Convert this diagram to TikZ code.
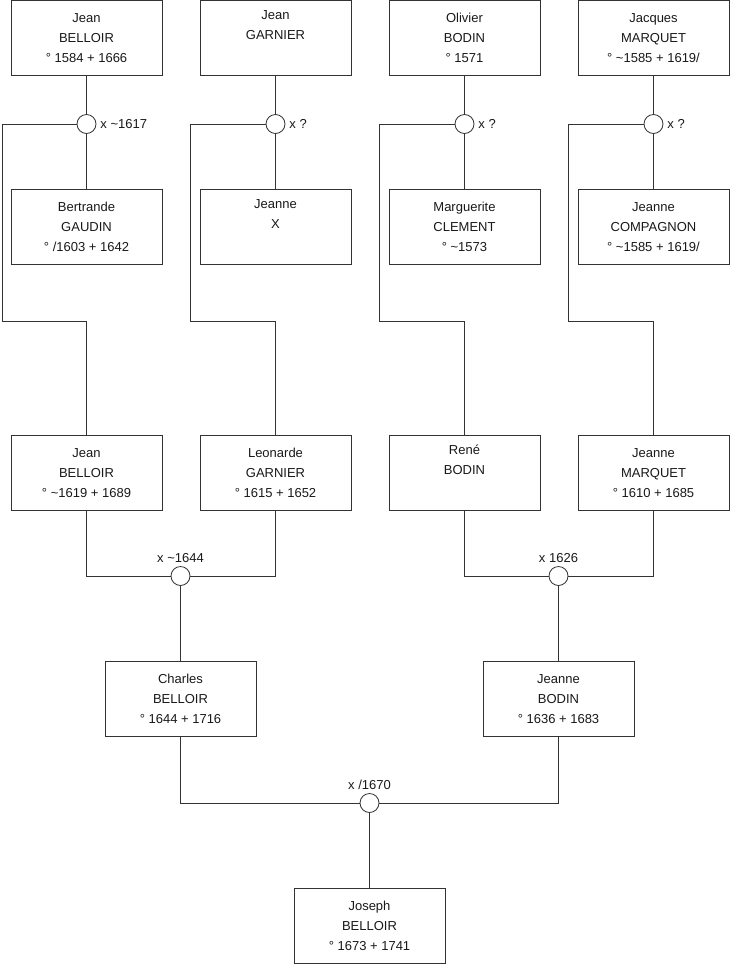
\documentclass[tikz,border=0pt]{standalone}
\usepackage{fontspec}
\setmainfont{Liberation Sans}
\begin{document}
\begin{tikzpicture}[x=1pt,y=-1pt,
  line width=0.8pt,
  person/.style={draw=black!80, fill=white, rectangle, minimum width=151pt, minimum height=75pt,
    inner sep=0pt, align=center, font=\fontsize{13}{20}\selectfont, text=black!90},
  wed/.style={draw=black!80, fill=white, circle, minimum size=19pt, inner sep=0pt},
  lbl/.style={font=\fontsize{13}{15}\selectfont, text=black!90, inner sep=0pt},
  link/.style={draw=black!80}]
\useasboundingbox (0,0) rectangle (740,975);
% top row
\node[person] (g1) at (86.5,38) {Jean\\BELLOIR\\° 1584 + 1666};
\node[person] (g3) at (275.5,38) {Jean\\GARNIER\\\strut};
\node[person] (g5) at (464.5,38) {Olivier\\BODIN\\° 1571};
\node[person] (g7) at (653.5,38) {Jacques\\MARQUET\\° \textasciitilde1585 + 1619/};
% second row
\node[person] (g2) at (86.5,227) {Bertrande\\GAUDIN\\° /1603 + 1642};
\node[person] (g4) at (275.5,227) {Jeanne\\X\\\strut};
\node[person] (g6) at (464.5,227) {Marguerite\\CLEMENT\\° \textasciitilde1573};
\node[person] (g8) at (653.5,227) {Jeanne\\COMPAGNON\\° \textasciitilde1585 + 1619/};
% third row
\node[person] (p1) at (86.5,473) {Jean\\BELLOIR\\° \textasciitilde1619 + 1689};
\node[person] (p2) at (275.5,473) {Leonarde\\GARNIER\\° 1615 + 1652};
\node[person] (p3) at (464.5,473) {René\\BODIN\\\strut};
\node[person] (p4) at (653.5,473) {Jeanne\\MARQUET\\° 1610 + 1685};
% fourth row
\node[person] (q1) at (180.5,699) {Charles\\BELLOIR\\° 1644 + 1716};
\node[person] (q2) at (558.5,699) {Jeanne\\BODIN\\° 1636 + 1683};
% bottom
\node[person] (r1) at (369.5,926) {Joseph\\BELLOIR\\° 1673 + 1741};
% marriages
\node[wed] (m1) at (86.5,124) {};
\node[wed] (m2) at (275.5,124) {};
\node[wed] (m3) at (464.5,124) {};
\node[wed] (m4) at (653.5,124) {};
\node[wed] (ma) at (180.5,576) {};
\node[wed] (mb) at (558.5,576) {};
\node[wed] (mc) at (369.5,803) {};
% labels
\node[lbl, anchor=west] (l1) at (100,124) {x \textasciitilde1617};
\node[lbl, anchor=west] (l2) at (289,124) {x ?};
\node[lbl, anchor=west] (l3) at (478,124) {x ?};
\node[lbl, anchor=west] (l4) at (667,124) {x ?};
\node[lbl] (la) at (180.5,558) {x \textasciitilde1644};
\node[lbl] (lb) at (558.5,558) {x 1626};
\node[lbl] (lc) at (369.5,785) {x /1670};
% bend points
\coordinate (k1) at (2,321);
\coordinate (k2) at (190,321);
\coordinate (k3) at (379,321);
\coordinate (k4) at (568,321);
% top connectors
\draw[link] (g1.south) -- (m1.north);
\draw[link] (m1.south) -- (g2.north);
\draw[link] (m1.west) -| (k1) -| (p1.north);
\draw[link] (g3.south) -- (m2.north);
\draw[link] (m2.south) -- (g4.north);
\draw[link] (m2.west) -| (k2) -| (p2.north);
\draw[link] (g5.south) -- (m3.north);
\draw[link] (m3.south) -- (g6.north);
\draw[link] (m3.west) -| (k3) -| (p3.north);
\draw[link] (g7.south) -- (m4.north);
\draw[link] (m4.south) -- (g8.north);
\draw[link] (m4.west) -| (k4) -| (p4.north);
% lower connectors
\draw[link] (p1.south) |- (ma.west);
\draw[link] (p2.south) |- (ma.east);
\draw[link] (ma.south) -- (q1.north);
\draw[link] (p3.south) |- (mb.west);
\draw[link] (p4.south) |- (mb.east);
\draw[link] (mb.south) -- (q2.north);
\draw[link] (q1.south) |- (mc.west);
\draw[link] (q2.south) |- (mc.east);
\draw[link] (mc.south) -- (r1.north);
\end{tikzpicture}
\end{document}
